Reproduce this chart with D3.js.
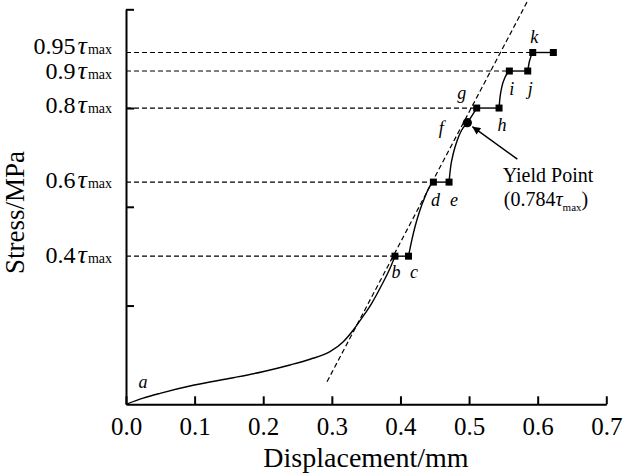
<!DOCTYPE html>
<html>
<head>
<meta charset="utf-8">
<script src="https://cdn.jsdelivr.net/npm/d3@7/dist/d3.min.js"></script>
<style>
  html, body { margin: 0; padding: 0; background: #fff; }
  svg { display: block; }
</style>
</head>
<body>
<svg id="chart" width="633" height="474"></svg>
<script>
// ---------------- data ----------------
const xTicks = [0.0, 0.1, 0.2, 0.3, 0.4, 0.5, 0.6, 0.7];
const yTicks = [1, 2, 3, 4];               // MPa (unlabelled)
const tauMax = 3.75;                       // MPa
const levelFracs  = [0.4, 0.6, 0.8, 0.9, 0.95];
const levelLabels = ["0.4", "0.6", "0.8", "0.9", "0.95"];

// loading curve segments [displacement mm, stress MPa]
const curveAB = [[0,0],[0.025,0.062],[0.0496,0.111],[0.0995,0.195],[0.1564,0.269],[0.1992,0.330],
  [0.2390,0.398],[0.2682,0.456],[0.2973,0.533],[0.3167,0.634],[0.3313,0.752],[0.3435,0.871],
  [0.3581,1.023],[0.3727,1.208],[0.3848,1.377],[0.392,1.5]];
const curveCD = [[0.4117,1.5],[0.4164,1.657],[0.4212,1.798],[0.4285,1.968],[0.4358,2.102],[0.4431,2.211],[0.448,2.25]];
const curveEG = [[0.4708,2.25],[0.4732,2.406],[0.4771,2.542],[0.4829,2.677],[0.4893,2.778],[0.4975,2.852],[0.5111,3.0]];
const curveHI = [[0.5437,3.0],[0.5451,3.108],[0.5476,3.209],[0.5524,3.311],[0.5587,3.375]];
const curveJK = [[0.5855,3.375],[0.5878,3.469],[0.5928,3.5625]];

// square markers
const pointNames = ["b","c","d","e","g","h","i","j","k",""];
const pointX = [0.392,0.4117,0.448,0.4708,0.5111,0.5437,0.5587,0.5855,0.5928,0.6228];
const pointY = [1.5,1.5,2.25,2.25,3.0,3.0,3.375,3.375,3.5625,3.5625];
// horizontal hold segments (index pairs into points)
const holdPairs = [[0,1],[2,3],[4,5],[6,7],[8,9]];

const yieldPoint = [0.4975, 2.852];
const yieldLabel = ["Yield Point", "(0.784", "max", ")"];
const tangentLine = [[0.293,0.229],[0.586,4.094]];

// ---------------- layout ----------------
const FONT = '"Liberation Serif"';
const svg = d3.select("#chart");
const x = d3.scaleLinear().domain([0, 0.7]).range([126, 606.3]);
const y = d3.scaleLinear().domain([0, 4]).range([404.3, 9.3]);

const line = d3.line().x(d => x(d[0])).y(d => y(d[1])).curve(d3.curveMonotoneX);
const straight = d3.line().x(d => x(d[0])).y(d => y(d[1]));

function txt(sel) { return sel.style("font-family", FONT).attr("fill", "#000"); }

// level dashed lines (from axis to first square of each level)
const levelStart = [0, 2, 4, 6, 8];
svg.append("g").selectAll("line").data(levelFracs).join("line")
  .attr("x1", x(0)).attr("x2", (d, i) => x(pointX[levelStart[i]]))
  .attr("y1", d => y(d * tauMax)).attr("y2", d => y(d * tauMax))
  .attr("stroke", "#000").attr("stroke-width", 1.2).attr("stroke-dasharray", "5,3");

// tangent dashed line
svg.append("path").attr("d", straight(tangentLine))
  .attr("fill", "none").attr("stroke", "#000").attr("stroke-width", 1.2).attr("stroke-dasharray", "5,3");

// curves
[curveAB, curveCD, curveEG, curveHI, curveJK].forEach(c => {
  svg.append("path").attr("d", line(c)).attr("fill", "none").attr("stroke", "#000").attr("stroke-width", 1.4);
});
// hold segments
svg.append("g").selectAll("line").data(holdPairs).join("line")
  .attr("x1", d => x(pointX[d[0]])).attr("x2", d => x(pointX[d[1]]))
  .attr("y1", d => y(pointY[d[0]])).attr("y2", d => y(pointY[d[1]]))
  .attr("stroke", "#000").attr("stroke-width", 1.4);

// squares
const sq = 7;
svg.append("g").selectAll("rect").data(pointX).join("rect")
  .attr("x", (d) => x(d) - sq / 2).attr("y", (d, i) => y(pointY[i]) - sq / 2)
  .attr("width", sq).attr("height", sq).attr("fill", "#000");

// yield point
svg.append("circle").attr("cx", x(yieldPoint[0])).attr("cy", y(yieldPoint[1])).attr("r", 4.6).attr("fill", "#000");

// axes
const xAxis = d3.axisBottom(x).tickValues(xTicks).tickFormat(d3.format(".1f"))
  .tickSizeInner(-8).tickSizeOuter(0).tickPadding(13);
const gx = svg.append("g").attr("transform", `translate(0,${y(0)})`).call(xAxis);
gx.select(".domain").attr("stroke", "#000").attr("stroke-width", 2);
gx.selectAll(".tick line").attr("stroke", "#000").attr("stroke-width", 2);
txt(gx.selectAll(".tick text")).attr("font-size", 25);

const yAxis = d3.axisLeft(y).tickValues(yTicks).tickFormat("").tickSizeInner(-8).tickSizeOuter(0);
const gy = svg.append("g").attr("transform", `translate(${x(0)},0)`).call(yAxis);
gy.select(".domain").attr("stroke", "#000").attr("stroke-width", 2);
gy.selectAll(".tick line").attr("stroke", "#000").attr("stroke-width", 2);
gy.selectAll(".tick text").remove();

// level labels
const labelDy = [7, 5.5, 4.8, 8, 1.8];
levelFracs.forEach((f, i) => {
  const t = txt(svg.append("text")).attr("x", 112).attr("y", y(f * tauMax) + labelDy[i])
    .attr("text-anchor", "end");
  txt(t.append("tspan")).attr("font-size", 24).text(levelLabels[i]);
  txt(t.append("tspan")).attr("font-size", 26).attr("dx", 2).style("font-style", "italic").text("τ");
  txt(t.append("tspan")).attr("font-size", 14).attr("dx", 1).text("max");
});

// point letters
const letterOffsets = [[1,22],[5.5,22],[2,24],[5,24],[-15,-9],[3,23],[2.5,24],[2.5,24],[1.5,-10],[0,0]];
pointNames.forEach((n, i) => {
  if (!n) return;
  txt(svg.append("text")).attr("x", x(pointX[i]) + letterOffsets[i][0]).attr("y", y(pointY[i]) + letterOffsets[i][1])
    .attr("text-anchor", "middle").attr("font-size", 18).style("font-style", "italic").text(n);
});
txt(svg.append("text")).attr("x", x(0) + 17).attr("y", y(0) - 16)
  .attr("text-anchor", "middle").attr("font-size", 18).style("font-style", "italic").text("a");
txt(svg.append("text")).attr("x", x(yieldPoint[0]) - 26).attr("y", y(yieldPoint[1]) + 11)
  .attr("text-anchor", "middle").attr("font-size", 18).style("font-style", "italic").text("f");

// yield annotation
const defs = svg.append("defs");
defs.append("marker").attr("id", "arr").attr("viewBox", "0 0 10 10").attr("refX", 10).attr("refY", 5)
  .attr("markerWidth", 10).attr("markerHeight", 8).attr("markerUnits", "userSpaceOnUse").attr("orient", "auto")
  .append("path").attr("d", "M0,0 L10,5 L0,10 z").attr("fill", "#000");
const yx = x(yieldPoint[0]), yy = y(yieldPoint[1]);
svg.append("line").attr("x1", yx + 50).attr("y1", yy + 36.5).attr("x2", yx + 5).attr("y2", yy + 4)
  .attr("stroke", "#000").attr("stroke-width", 1.4).attr("marker-end", "url(#arr)");
txt(svg.append("text")).attr("x", 548).attr("y", 181.5).attr("text-anchor", "middle").attr("font-size", 20).text(yieldLabel[0]);
const t2 = txt(svg.append("text")).attr("x", 546).attr("y", 205.5).attr("text-anchor", "middle").attr("font-size", 20);
txt(t2.append("tspan")).text(yieldLabel[1]);
txt(t2.append("tspan")).style("font-style", "italic").text("τ");
txt(t2.append("tspan")).attr("font-size", 11).attr("dy", 5).text(yieldLabel[2]);
txt(t2.append("tspan")).attr("dy", -5).text(yieldLabel[3]);

// axis titles
txt(svg.append("text")).attr("x", 366).attr("y", 467).attr("text-anchor", "middle").attr("font-size", 28).text("Displacement/mm");
txt(svg.append("text")).attr("transform", "translate(24,212.5) rotate(-90)").attr("text-anchor", "middle")
  .attr("font-size", 27).text("Stress/MPa");
</script>
</body>
</html>
